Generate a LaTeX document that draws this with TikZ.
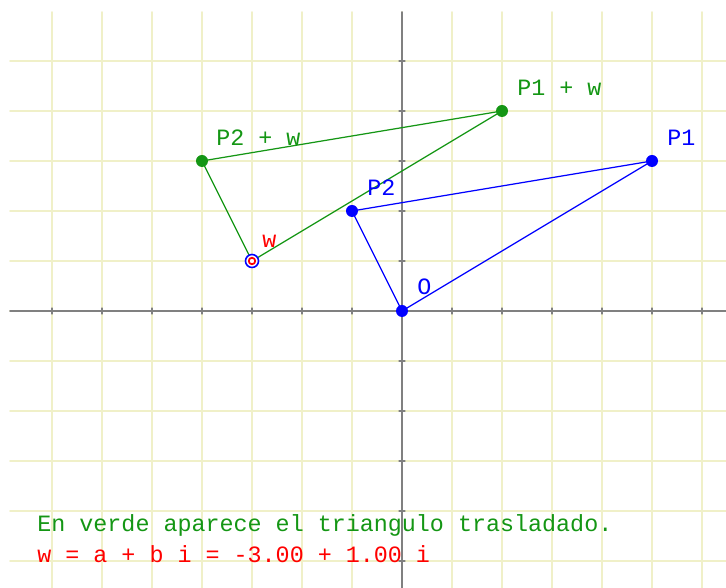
\documentclass[tikz,border=0pt]{standalone}
\usepackage{fontspec}
\setmonofont{Liberation Mono}
\usetikzlibrary{positioning}
\definecolor{gridyellow}{RGB}{240,240,200}
\definecolor{axisgray}{RGB}{128,128,128}
\definecolor{trgreen}{RGB}{20,150,20}
\begin{document}
\begin{tikzpicture}[line join=round,line cap=round,x=1cm,y=1cm]
\tikzset{lbl/.style={font=\ttfamily\fontsize{13.3}{15}\selectfont,anchor=base west,inner sep=0pt},
 dot/.style={circle,fill,inner sep=0pt,minimum size=2.4mm}}
\useasboundingbox (-8.04,-5.54) rectangle (6.48,6.22);
% grid
\foreach \y in {-5,...,5} \draw[gridyellow,line width=1pt] (-7.84,\y)--(6.48,\y);
\foreach \x in {-7,...,6} \draw[gridyellow,line width=1pt] (\x,-5.54)--(\x,5.98);
% axes
\draw[axisgray,line width=0.9pt] (-7.84,0)--(6.48,0) (0,-5.54)--(0,5.98);
\foreach \t in {-7,...,6} \draw[axisgray,line width=0.6pt] (\t,-0.06)--(\t,0.06);
\foreach \t in {-5,...,5} \draw[axisgray,line width=0.6pt] (-0.06,\t)--(0.06,\t);
% points
\coordinate (O) at (0,0);
\coordinate (P1) at (5,3);
\coordinate (P2) at (-1,2);
\coordinate (W) at (-3,1);
\coordinate (P1W) at (2,4);
\coordinate (P2W) at (-4,3);
% triangles
\draw[blue,line width=0.7pt] (O)--(P1)--(P2)--cycle;
\draw[trgreen,line width=0.7pt] (W)--(P1W)--(P2W)--cycle;
\node[dot,blue] (dO) at (O) {};
\node[dot,blue] (dP1) at (P1) {};
\node[dot,blue] (dP2) at (P2) {};
\node[dot,trgreen] (dP1W) at (P1W) {};
\node[dot,trgreen] (dP2W) at (P2W) {};
\node[circle,draw=blue,fill=white,line width=0.9pt,inner sep=0pt,minimum size=2.6mm] (dW) at (W) {};
\node[circle,draw=red,line width=1pt,inner sep=0pt,minimum size=1.3mm] (dWin) at (W) {};
% labels
\node[lbl,blue] (tO) at (0.3,0.32) {O};
\node[lbl,blue] (tP1) at (5.3,3.3) {P1};
\node[lbl,blue] (tP2) at (-0.7,2.3) {P2};
\node[lbl,red] (tW) at (-2.8,1.26) {w};
\node[lbl,trgreen] (tP1W) at (2.3,4.3) {P1 + w};
\node[lbl,trgreen] (tP2W) at (-3.72,3.3) {P2 + w};
\node[lbl,trgreen] (note) at (-7.3,-4.42) {En verde aparece el triangulo trasladado.};
\node[lbl,red] (eq) at (-7.3,-5.04) {w = a + b i = -3.00 + 1.00 i};
\end{tikzpicture}
\end{document}
